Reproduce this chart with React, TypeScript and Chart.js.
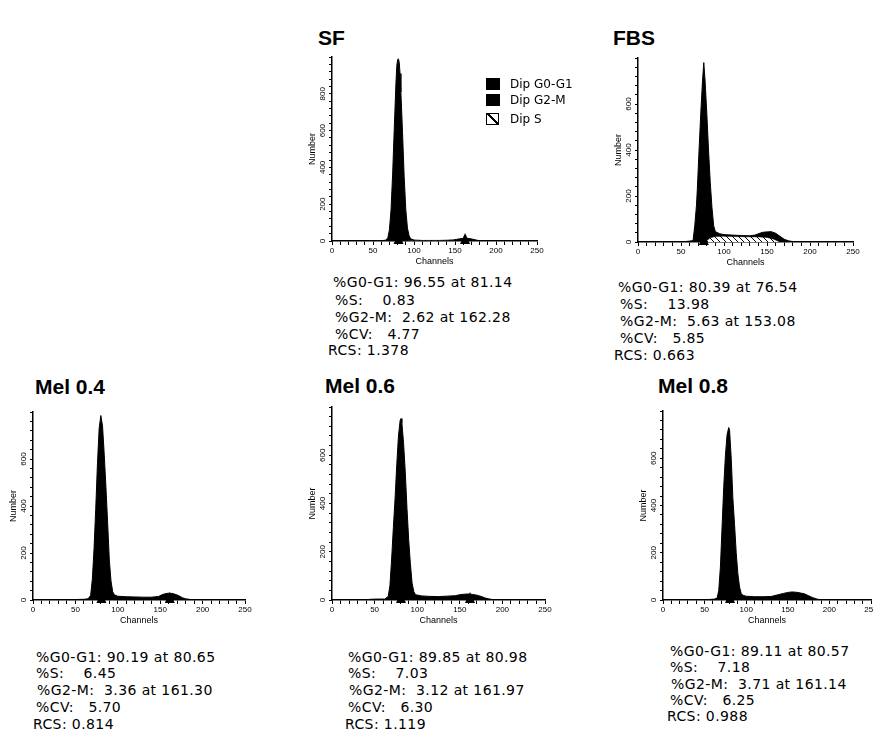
import React, { useEffect, useRef } from "react";
import { Chart, registerables } from "chart.js";
Chart.register(...registerables);

// ---------------- DATA ----------------
// SF
const sfChannels = [0, 30, 50, 60, 65, 68, 70, 72, 74, 76, 78, 79, 80, 81, 82, 83, 84, 86, 88, 90, 92, 94, 96, 100, 110, 120, 130, 140, 148, 152, 156, 160, 164, 168, 172, 176, 180, 190, 200, 250];
const sfCounts = [0, 0, 1, 2, 4, 15, 60, 170, 370, 620, 860, 950, 985, 990, 970, 910, 810, 590, 350, 170, 70, 28, 12, 5, 3, 3, 3, 4, 6, 9, 12, 14, 15, 13, 9, 5, 2, 1, 0, 0];
const sfSChannels = [85, 100, 130, 155];
const sfSCounts = [0, 2, 2, 0];
const sfPeaks = [81.14, 162.28];
const sfStats = ["%G0-G1: 96.55 at 81.14", "%S:    0.83", "%G2-M:  2.62 at 162.28", "%CV:   4.77", "RCS: 1.378"];

// FBS
const fbsChannels = [0, 40, 55, 60, 64, 66, 68, 69, 71, 73, 75, 76.5, 78, 80, 82, 84, 86, 88, 90, 95, 100, 110, 120, 130, 136, 140, 145, 150, 155, 160, 165, 170, 175, 180, 190, 250];
const fbsCounts = [0, 0, 2, 4, 6, 70, 160, 230, 400, 560, 700, 780, 700, 560, 400, 260, 150, 70, 45, 36, 32, 30, 28, 27, 30, 36, 42, 44, 45, 38, 25, 12, 5, 2, 0, 0];
const fbsSChannels = [78, 84, 90, 100, 120, 140, 150, 158, 165];
const fbsSCounts = [0, 18, 24, 25, 23, 22, 20, 12, 0];
const fbsPeaks = [76.54];
const fbsStats = ["%G0-G1: 80.39 at 76.54", "%S:    13.98", "%G2-M:  5.63 at 153.08", "%CV:   5.85", "RCS: 0.663"];

// Mel 0.4
const mel4Channels = [0, 40, 50, 60, 65, 68, 70, 72, 74, 76, 78, 80, 82, 84, 86, 88, 90, 92, 94, 96, 100, 110, 120, 130, 140, 148, 152, 156, 160, 164, 168, 172, 176, 180, 186, 195, 250];
const mel4Counts = [0, 1, 2, 3, 5, 20, 90, 220, 390, 580, 730, 785, 740, 620, 480, 330, 170, 80, 35, 22, 16, 14, 13, 12, 12, 15, 22, 27, 29, 28, 24, 18, 10, 5, 2, 0, 0];
const mel4Peaks = [80.65, 161.3];
const mel4Stats = ["%G0-G1: 90.19 at 80.65", "%S:    6.45", "%G2-M:  3.36 at 161.30", "%CV:   5.70", "RCS: 0.814"];

// Mel 0.6
const mel6Channels = [0, 40, 45, 55, 62, 66, 68, 70, 72, 74, 76, 78, 80, 81, 82, 84, 86, 88, 90, 92, 94, 96, 98, 105, 115, 125, 135, 145, 150, 155, 160, 165, 170, 175, 180, 185, 190, 250];
const mel6Counts = [0, 0, 3, 4, 4, 15, 60, 170, 300, 420, 560, 680, 745, 752, 735, 650, 530, 380, 250, 150, 70, 35, 22, 17, 15, 14, 16, 18, 22, 24, 25, 23, 20, 15, 8, 4, 1, 0];
const mel6Peaks = [80.98, 161.97];
const mel6Stats = ["%G0-G1: 89.85 at 80.98", "%S:    7.03", "%G2-M:  3.12 at 161.97", "%CV:   6.30", "RCS: 1.119"];

// Mel 0.8
const mel8Channels = [0, 40, 55, 62, 65, 67, 69, 71, 73, 75, 77, 79, 80, 82, 84, 86, 88, 90, 92, 94, 96, 100, 110, 120, 130, 138, 145, 150, 155, 160, 165, 170, 175, 180, 186, 195, 250];
const mel8Counts = [0, 0, 2, 4, 8, 40, 140, 310, 480, 610, 700, 730, 720, 600, 430, 320, 200, 110, 55, 28, 20, 16, 14, 14, 15, 22, 28, 32, 34, 33, 30, 26, 18, 10, 3, 0, 0];
const mel8Peaks = [80.57];
const mel8Stats = ["%G0-G1: 89.11 at 80.57", "%S:    7.18", "%G2-M:  3.71 at 161.14", "%CV:   6.25", "RCS: 0.988"];

const legendLabels = ["Dip G0-G1", "Dip G2-M", "Dip S"];
const channelMax = 250;

// ---------------- LAYOUT ----------------
const PAD_L = 30;
const PAD_B = 30;
const PAD_T = 6;
const PAD_R = 8;
const AXIS_FONT = "'Liberation Sans', Arial, sans-serif";
const STAT_FONT = "'DejaVu Sans', Verdana, sans-serif";

function makeHatch(): CanvasPattern | string {
  const c = document.createElement("canvas");
  c.width = 6;
  c.height = 6;
  const ctx = c.getContext("2d");
  if (!ctx) return "#fff";
  ctx.fillStyle = "#fff";
  ctx.fillRect(0, 0, 6, 6);
  ctx.strokeStyle = "#000";
  ctx.lineWidth = 1;
  ctx.beginPath();
  ctx.moveTo(0, 0);
  ctx.lineTo(6, 6);
  ctx.moveTo(-1, 5);
  ctx.lineTo(1, 7);
  ctx.moveTo(5, -1);
  ctx.lineTo(7, 1);
  ctx.stroke();
  return ctx.createPattern(c, "repeat") || "#fff";
}

const peakMarkerPlugin = {
  id: "peakMarkers",
  afterDatasetsDraw(chart: any, _args: any, opts: any) {
    const peaks: number[] = (opts && opts.peaks) || [];
    const xs = chart.scales.x;
    const ys = chart.scales.y;
    const base = ys.getPixelForValue(0);
    const ctx = chart.ctx;
    ctx.save();
    ctx.fillStyle = "#000";
    for (const p of peaks) {
      const px = xs.getPixelForValue(p);
      ctx.beginPath();
      ctx.moveTo(px, base - 8);
      ctx.lineTo(px + 5, base + 3);
      ctx.lineTo(px - 5, base + 3);
      ctx.closePath();
      ctx.fill();
    }
    ctx.restore();
  },
};

type PanelProps = {
  area: { left: number; top: number; right: number; bottom: number };
  yMax: number;
  channels: number[];
  counts: number[];
  sChannels?: number[];
  sCounts?: number[];
  peaks: number[];
};

function Panel({ area, yMax, channels, counts, sChannels, sCounts, peaks }: PanelProps) {
  const ref = useRef<HTMLCanvasElement>(null);
  const w = area.right - area.left + PAD_L + PAD_R;
  const h = area.bottom - area.top + PAD_T + PAD_B;
  useEffect(() => {
    if (!ref.current) return;
    const datasets: any[] = [];
    if (sChannels && sCounts) {
      datasets.push({
        label: "Dip S",
        data: sChannels.map((c, i) => ({ x: c, y: sCounts[i] })),
        fill: "origin",
        backgroundColor: makeHatch(),
        borderColor: "#000",
        borderWidth: 0.5,
        pointRadius: 0,
        tension: 0,
      });
    }
    datasets.push({
      label: "Histogram",
      data: channels.map((c, i) => ({ x: c, y: counts[i] })),
      fill: "origin",
      backgroundColor: "#000",
      borderColor: "#000",
      borderWidth: 1,
      pointRadius: 0,
      tension: 0,
    });
    const chart = new Chart(ref.current, {
      type: "line",
      data: { datasets },
      plugins: [peakMarkerPlugin],
      options: {
        animation: false,
        responsive: false,
        events: [],
        layout: { padding: { top: PAD_T, right: PAD_R, left: 0, bottom: 0 } },
        plugins: {
          legend: { display: false },
          tooltip: { enabled: false },
          peakMarkers: { peaks },
        } as any,
        scales: {
          x: {
            type: "linear",
            min: 0,
            max: channelMax,
            afterFit: (s: any) => {
              s.height = PAD_B;
            },
            ticks: {
              stepSize: 10,
              autoSkip: false,
              maxRotation: 0,
              minRotation: 0,
              padding: 1,
              color: "#000",
              font: { family: AXIS_FONT, size: 8 },
              callback: (v: any) => (Number(v) % 50 === 0 ? String(v) : ""),
            },
            grid: { display: true, drawOnChartArea: false, drawTicks: true, tickLength: 4, color: "#000", lineWidth: 1 },
            border: { display: true, color: "#000", width: 1.5 },
            title: {
              display: true,
              text: "Channels",
              color: "#000",
              font: { family: AXIS_FONT, size: 9 },
              padding: { top: 0, bottom: 4 },
            },
          },
          y: {
            type: "linear",
            min: 0,
            max: yMax,
            afterFit: (s: any) => {
              s.width = PAD_L;
            },
            ticks: {
              stepSize: 40,
              autoSkip: false,
              minRotation: 90,
              maxRotation: 90,
              crossAlign: "center",
              padding: 0,
              color: "#000",
              font: { family: AXIS_FONT, size: 8 },
              callback: (v: any) => (Number(v) % 200 === 0 && Number(v) !== yMax ? String(v) : ""),
            },
            grid: { display: true, drawOnChartArea: false, drawTicks: true, tickLength: 3, color: "#000", lineWidth: 1 },
            border: { display: true, color: "#000", width: 1.5 },
            title: {
              display: true,
              text: "Number",
              color: "#000",
              font: { family: AXIS_FONT, size: 9 },
              padding: { top: 5, bottom: 0 },
            },
          },
        },
      } as any,
    });
    return () => chart.destroy();
  }, []);
  return (
    <canvas
      ref={ref}
      width={w}
      height={h}
      style={{ position: "absolute", left: area.left - PAD_L, top: area.top - PAD_T, width: w, height: h }}
    />
  );
}

function Title({ text, x, cy }: { text: string; x: number; cy: number }) {
  return (
    <div
      style={{
        position: "absolute",
        left: x,
        top: cy - 11,
        fontFamily: AXIS_FONT,
        fontWeight: "bold",
        fontSize: 21,
        lineHeight: "22px",
        whiteSpace: "nowrap",
        color: "#000",
      }}
    >
      {text}
    </div>
  );
}

function Stats({ lines, x, rows }: { lines: string[]; x: number[]; rows: number[] }) {
  return (
    <>
      {lines.map((t, i) => (
        <div
          key={i}
          style={{
            position: "absolute",
            left: x[i],
            top: rows[i] - 9,
            fontFamily: STAT_FONT,
            fontSize: 14,
            letterSpacing: "0.4px",
            lineHeight: "18px",
            whiteSpace: "pre",
            color: "#000",
          }}
        >
          {t}
        </div>
      ))}
    </>
  );
}

function Legend() {
  const rows = [84, 100, 119];
  return (
    <>
      {legendLabels.map((t, i) => (
        <React.Fragment key={i}>
          <div
            style={{
              position: "absolute",
              left: 486,
              top: rows[i] - 6,
              width: i === 2 ? 11 : 14,
              height: i === 2 ? 10 : 12,
              background: i === 2 ? "linear-gradient(45deg, transparent 45%, #000 45%, #000 58%, transparent 58%), #fff" : "#000",
              border: i === 2 ? "1.5px solid #000" : "none",
            }}
          />
          <div
            style={{
              position: "absolute",
              left: 510,
              top: rows[i] - 8,
              fontFamily: STAT_FONT,
              fontSize: 12,
              lineHeight: "16px",
              whiteSpace: "pre",
              color: "#000",
            }}
          >
            {t}
          </div>
        </React.Fragment>
      ))}
    </>
  );
}

export default function App() {
  return (
    <div
      style={{
        position: "absolute",
        left: 0,
        top: 0,
        width: 873,
        height: 733,
        overflow: "hidden",
        background: "#fff",
      }}
    >
      <Title text="SF" x={318} cy={38} />
      <Title text="FBS" x={613} cy={38} />
      <Title text="Mel 0.4" x={35} cy={387} />
      <Title text="Mel 0.6" x={325} cy={386} />
      <Title text="Mel 0.8" x={658} cy={386} />

      <Panel area={{ left: 332, top: 57, right: 537, bottom: 241 }} yMax={1000} channels={sfChannels} counts={sfCounts} sChannels={sfSChannels} sCounts={sfSCounts} peaks={sfPeaks} />
      <Panel area={{ left: 638, top: 58, right: 853, bottom: 242 }} yMax={800} channels={fbsChannels} counts={fbsCounts} sChannels={fbsSChannels} sCounts={fbsSCounts} peaks={fbsPeaks} />
      <Panel area={{ left: 33, top: 412, right: 245, bottom: 600 }} yMax={800} channels={mel4Channels} counts={mel4Counts} peaks={mel4Peaks} />
      <Panel area={{ left: 332, top: 407, right: 545, bottom: 600 }} yMax={800} channels={mel6Channels} counts={mel6Counts} peaks={mel6Peaks} />
      <Panel area={{ left: 663, top: 411, right: 871, bottom: 600 }} yMax={800} channels={mel8Channels} counts={mel8Counts} peaks={mel8Peaks} />

      <Legend />

      <Stats lines={sfStats} x={[333, 335, 335, 335, 328]} rows={[282, 300, 317, 334, 350]} />
      <Stats lines={fbsStats} x={[618, 620, 620, 620, 614]} rows={[287, 304, 321, 338, 355]} />
      <Stats lines={mel4Stats} x={[36, 36, 37, 36, 33]} rows={[657, 673, 690, 707, 724]} />
      <Stats lines={mel6Stats} x={[348, 348, 349, 348, 345]} rows={[657, 673, 690, 707, 724]} />
      <Stats lines={mel8Stats} x={[670, 670, 671, 670, 667]} rows={[651, 667, 684, 700, 716]} />
    </div>
  );
}
